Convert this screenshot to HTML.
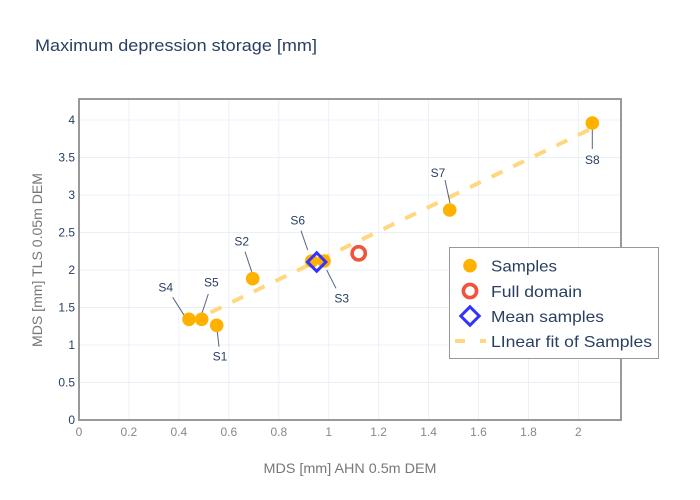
<!DOCTYPE html>
<html>
<head>
<meta charset="utf-8">
<style>
  html, body { margin: 0; padding: 0; background: #fff; }
  svg { display: block; }
  text { font-family: "Liberation Sans", "DejaVu Sans", sans-serif; }
</style>
</head>
<body>
<svg width="700" height="500" viewBox="0 0 700 500" xmlns="http://www.w3.org/2000/svg">
  <rect x="0" y="0" width="700" height="500" fill="#fff"/>
  <!-- title -->
  <text x="35" y="51" font-size="17" fill="#2a3f5f" textLength="282" lengthAdjust="spacingAndGlyphs">Maximum depression storage [mm]</text>

  <!-- plot bg -->
  <rect x="79" y="99" width="542" height="321" fill="#fff"/>
  <!-- gridlines -->
  <g stroke="#ebf0f8" stroke-width="1">
    <line x1="128.9" y1="99" x2="128.9" y2="420"/>
    <line x1="178.9" y1="99" x2="178.9" y2="420"/>
    <line x1="228.8" y1="99" x2="228.8" y2="420"/>
    <line x1="278.8" y1="99" x2="278.8" y2="420"/>
    <line x1="328.7" y1="99" x2="328.7" y2="420"/>
    <line x1="378.6" y1="99" x2="378.6" y2="420"/>
    <line x1="428.6" y1="99" x2="428.6" y2="420"/>
    <line x1="478.5" y1="99" x2="478.5" y2="420"/>
    <line x1="528.5" y1="99" x2="528.5" y2="420"/>
    <line x1="578.4" y1="99" x2="578.4" y2="420"/>
    <line x1="79" y1="382.5" x2="621" y2="382.5"/>
    <line x1="79" y1="345" x2="621" y2="345"/>
    <line x1="79" y1="307.5" x2="621" y2="307.5"/>
    <line x1="79" y1="270" x2="621" y2="270"/>
    <line x1="79" y1="232.5" x2="621" y2="232.5"/>
    <line x1="79" y1="195" x2="621" y2="195"/>
    <line x1="79" y1="157.5" x2="621" y2="157.5"/>
    <line x1="79" y1="120" x2="621" y2="120"/>
  </g>

  <!-- axes frame -->
  <rect x="79" y="99" width="542" height="321" fill="none" stroke="#999" stroke-width="2"/>

  <!-- y tick labels -->
  <g font-size="12" fill="#2a3f5f" text-anchor="end">
    <text x="75" y="424">0</text>
    <text x="75" y="386.5">0.5</text>
    <text x="75" y="349">1</text>
    <text x="75" y="311.5">1.5</text>
    <text x="75" y="274">2</text>
    <text x="75" y="236.5">2.5</text>
    <text x="75" y="199">3</text>
    <text x="75" y="161.5">3.5</text>
    <text x="75" y="124">4</text>
  </g>
  <!-- x tick labels -->
  <g font-size="12" fill="#888" text-anchor="middle">
    <text x="79" y="436">0</text>
    <text x="128.9" y="436">0.2</text>
    <text x="178.9" y="436">0.4</text>
    <text x="228.8" y="436">0.6</text>
    <text x="278.8" y="436">0.8</text>
    <text x="328.7" y="436">1</text>
    <text x="378.6" y="436">1.2</text>
    <text x="428.6" y="436">1.4</text>
    <text x="478.5" y="436">1.6</text>
    <text x="528.5" y="436">1.8</text>
    <text x="578.4" y="436">2</text>
  </g>

  <!-- axis titles -->
  <text x="350" y="473" font-size="14" fill="#777" text-anchor="middle" textLength="173" lengthAdjust="spacingAndGlyphs">MDS [mm] AHN 0.5m DEM</text>
  <text x="0" y="0" font-size="14" fill="#777" text-anchor="middle" transform="translate(42,260) rotate(-90)" textLength="174" lengthAdjust="spacingAndGlyphs">MDS [mm] TLS 0.05m DEM</text>

  <!-- linear fit -->
  <line x1="189" y1="322.8" x2="592.3" y2="128.2" stroke="#ffd77f" stroke-width="4" stroke-dasharray="12,12"/>

  <!-- annotation arrows -->
  <g stroke="#2a3f5f" stroke-width="1" stroke-opacity="0.8">
    <line x1="592.3" y1="129" x2="592.3" y2="149"/>
    <line x1="445" y1="180" x2="450" y2="203"/>
    <line x1="245" y1="251.7" x2="251.7" y2="271.7"/>
    <line x1="301" y1="230.7" x2="307.7" y2="250"/>
    <line x1="326.7" y1="270" x2="336" y2="288.3"/>
    <line x1="172.7" y1="297.3" x2="185" y2="316.7"/>
    <line x1="208.3" y1="294" x2="201.7" y2="314"/>
    <line x1="217.3" y1="331.7" x2="219" y2="346.7"/>
  </g>

  <!-- samples -->
  <g fill="#ffb100">
    <circle cx="592.3" cy="123" r="6.8"/>
    <circle cx="449.7" cy="210" r="6.8"/>
    <circle cx="252.7" cy="278.7" r="6.8"/>
    <circle cx="311.7" cy="261" r="6.8"/>
    <circle cx="324" cy="261" r="6.8"/>
    <circle cx="189" cy="319.3" r="6.8"/>
    <circle cx="201.7" cy="319.3" r="6.8"/>
    <circle cx="216.7" cy="325.3" r="6.8"/>
  </g>

  <!-- full domain -->
  <circle cx="358.7" cy="253.3" r="6.6" fill="none" stroke="#ef553b" stroke-width="3.6"/>

  <!-- mean samples -->
  <polygon points="316.7,252.8 325.9,262 316.7,271.2 307.5,262" fill="none" stroke="#3333ff" stroke-width="3"/>

  <!-- annotation text -->
  <g font-size="12" fill="#2a3f5f" text-anchor="middle">
    <text x="592.3" y="164">S8</text>
    <text x="438" y="177">S7</text>
    <text x="241.7" y="245.7">S2</text>
    <text x="297.7" y="224.7">S6</text>
    <text x="341.7" y="302.3">S3</text>
    <text x="165.7" y="291.7">S4</text>
    <text x="211.3" y="286.7">S5</text>
    <text x="220" y="360.7">S1</text>
  </g>

  <!-- legend -->
  <rect x="449.5" y="247.5" width="209" height="111" fill="#fff" stroke="#999" stroke-width="1"/>
  <circle cx="470" cy="265.7" r="6.8" fill="#ffb100"/>
  <circle cx="470" cy="291" r="6.6" fill="none" stroke="#ef553b" stroke-width="3.6"/>
  <polygon points="470,306.8 479.2,316 470,325.2 460.8,316" fill="none" stroke="#3333ff" stroke-width="3"/>
  <line x1="455" y1="341" x2="465" y2="341" stroke="#ffd77f" stroke-width="4"/>
  <line x1="480" y1="341" x2="486" y2="341" stroke="#ffd77f" stroke-width="4"/>
  <g font-size="16" fill="#2a3f5f">
    <text x="491" y="271.5" textLength="66" lengthAdjust="spacingAndGlyphs">Samples</text>
    <text x="491" y="296.8" textLength="91" lengthAdjust="spacingAndGlyphs">Full domain</text>
    <text x="491" y="321.8" textLength="113" lengthAdjust="spacingAndGlyphs">Mean samples</text>
    <text x="491" y="346.8" textLength="161" lengthAdjust="spacingAndGlyphs">LInear fit of Samples</text>
  </g>
</svg>
</body>
</html>
